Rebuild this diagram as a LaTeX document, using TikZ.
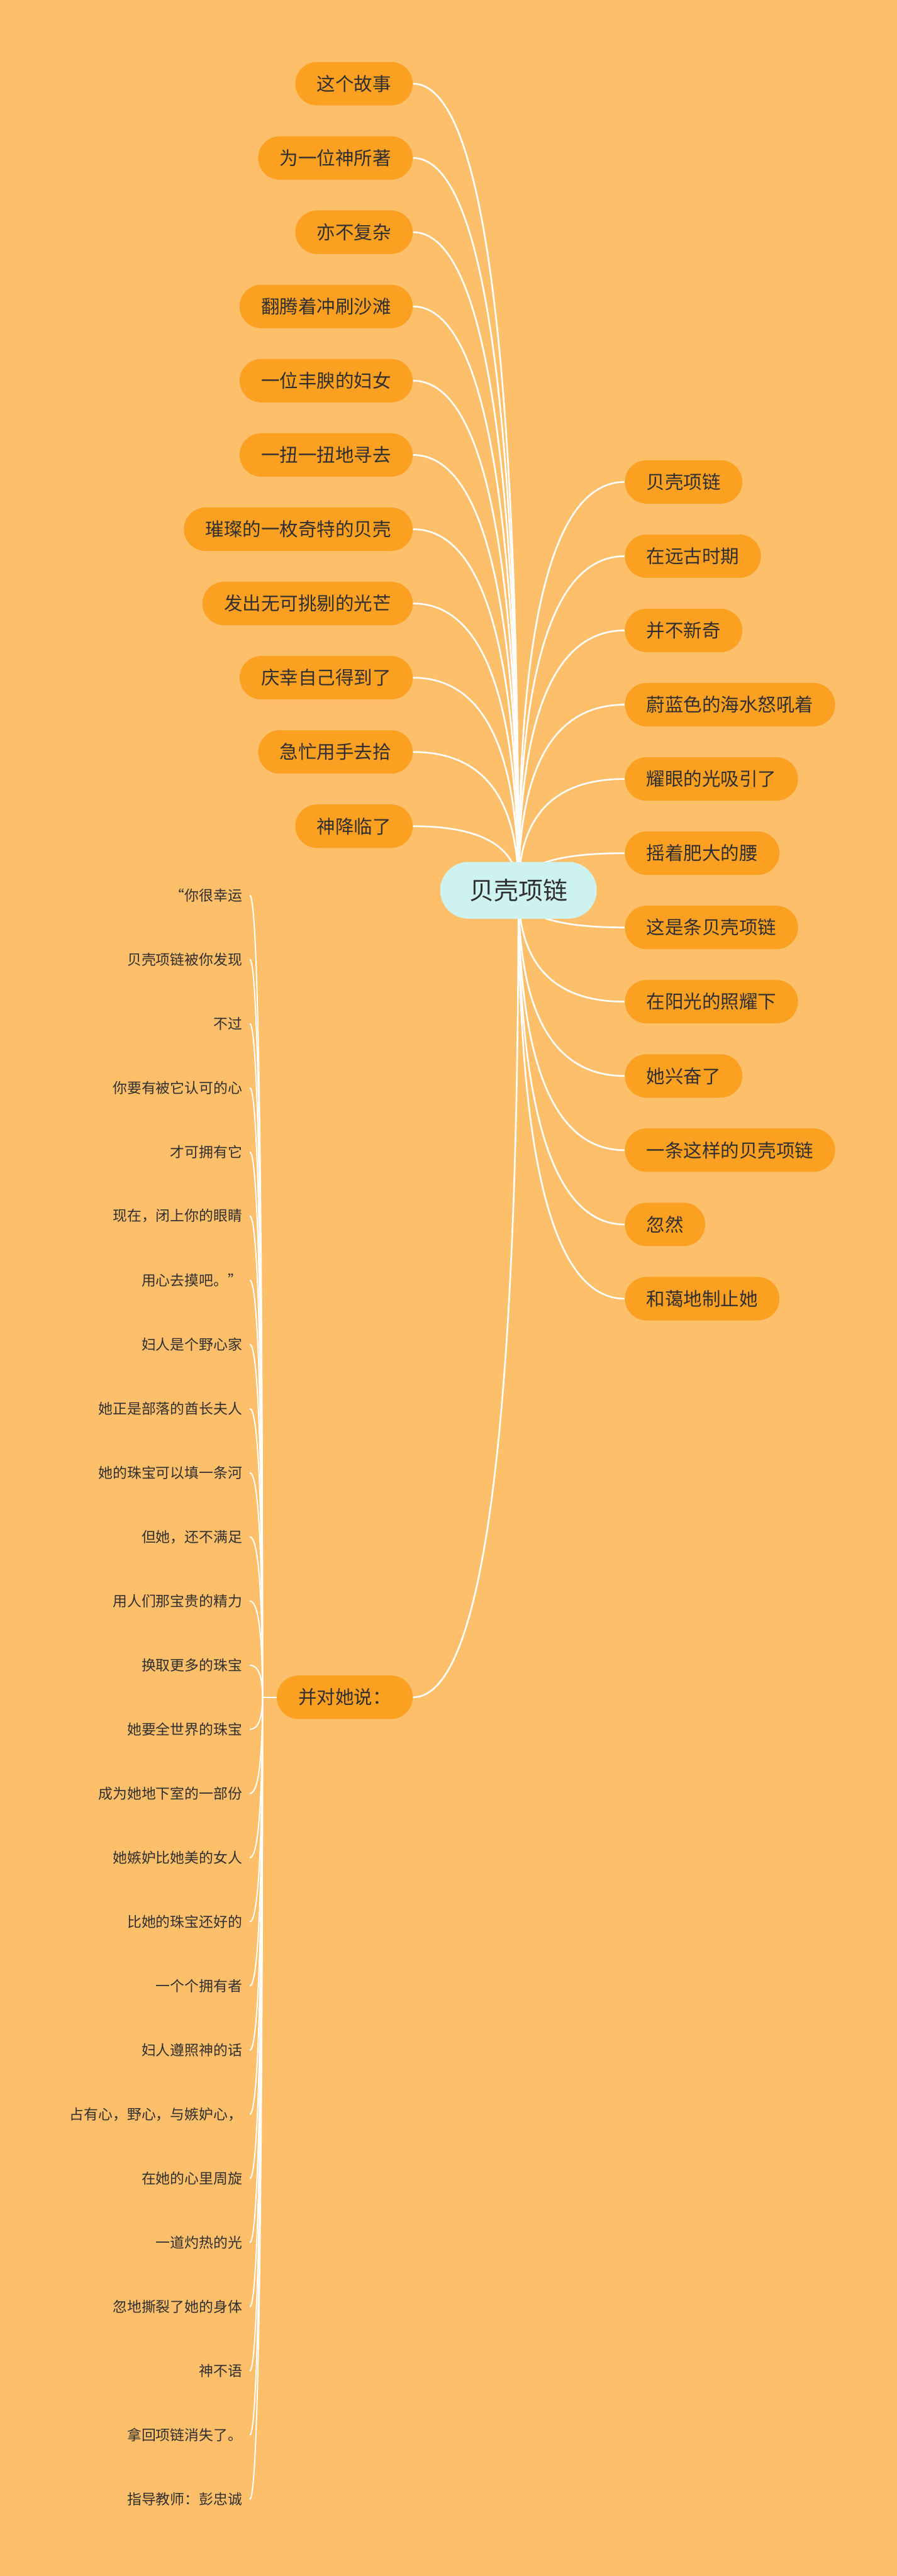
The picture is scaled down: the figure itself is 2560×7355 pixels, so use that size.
\documentclass[tikz,border=0pt]{standalone}
\usepackage{fontspec}
\setmainfont{Noto Sans CJK SC}
\usepackage{tikz}
\usetikzlibrary{calc}

\definecolor{paper}{HTML}{FEBF6A}
\definecolor{leaffill}{HTML}{FBA020}
\definecolor{rootfill}{HTML}{CDF2EF}
\definecolor{ink}{HTML}{2F2F2F}

\pgfdeclarelayer{bg}
\pgfdeclarelayer{links}
\pgfsetlayers{bg,links,main}

\begin{document}
\begin{tikzpicture}[x=0.25pt,y=-0.25pt,
	root/.style={fill=rootfill, rounded corners=20.25pt, minimum height=40.5pt, inner xsep=20.9pt, inner ysep=0pt, text=ink, font=\fontsize{17.5}{20}\selectfont},
	leaf/.style={fill=leaffill, rounded corners=15.5pt, minimum height=31pt, inner xsep=15.4pt, inner ysep=0pt, text=ink, font=\fontsize{13.25}{16}\selectfont},
	verse/.style={anchor=east, inner xsep=5.25pt, inner ysep=0pt, text=ink, font=\fontsize{10.25}{12}\selectfont},
	link/.style={draw=white, line width=1.2pt, to path={.. controls ($(\tikztostart)!2/3!(\tikztostart|-\tikztotarget)$) and ($(\tikztotarget)!2/3!(\tikztostart|-\tikztotarget)$) .. (\tikztotarget)}},
	twig/.style={link, line width=0.9pt}]
		\useasboundingbox (0,0) rectangle (2560,7355);
		\begin{pgfonlayer}{bg}
			\fill[paper] (0,0) rectangle (2560,7355);
		\end{pgfonlayer}

		\node[root]	(main)	at (1480,2542)	{贝壳项链};
		\coordinate (hub) at (main.center);

		% left side
		\node[leaf, anchor=east] (l1)	at (1179,239)			{这个故事};
		\node[leaf, anchor=east] (l2)	at ([yshift=-53pt]l1.east)	{为一位神所著};
		\node[leaf, anchor=east] (l3)	at ([yshift=-53pt]l2.east)	{亦不复杂};
		\node[leaf, anchor=east] (l4)	at ([yshift=-53pt]l3.east)	{翻腾着冲刷沙滩};
		\node[leaf, anchor=east] (l5)	at ([yshift=-53pt]l4.east)	{一位丰腴的妇女};
		\node[leaf, anchor=east] (l6)	at ([yshift=-53pt]l5.east)	{一扭一扭地寻去};
		\node[leaf, anchor=east] (l7)	at ([yshift=-53pt]l6.east)	{璀璨的一枚奇特的贝壳};
		\node[leaf, anchor=east] (l8)	at ([yshift=-53pt]l7.east)	{发出无可挑剔的光芒};
		\node[leaf, anchor=east] (l9)	at ([yshift=-53pt]l8.east)	{庆幸自己得到了};
		\node[leaf, anchor=east] (l10)	at ([yshift=-53pt]l9.east)	{急忙用手去拾};
		\node[leaf, anchor=east] (l11)	at ([yshift=-53pt]l10.east)	{神降临了};
		\node[leaf, anchor=east] (say)	at (1179,4846)			{并对她说：};

		% right side
		\node[leaf, anchor=west] (r1)	at (1783,1376)			{贝壳项链};
		\node[leaf, anchor=west] (r2)	at ([yshift=-53pt]r1.west)	{在远古时期};
		\node[leaf, anchor=west] (r3)	at ([yshift=-53pt]r2.west)	{并不新奇};
		\node[leaf, anchor=west] (r4)	at ([yshift=-53pt]r3.west)	{蔚蓝色的海水怒吼着};
		\node[leaf, anchor=west] (r5)	at ([yshift=-53pt]r4.west)	{耀眼的光吸引了};
		\node[leaf, anchor=west] (r6)	at ([yshift=-53pt]r5.west)	{摇着肥大的腰};
		\node[leaf, anchor=west] (r7)	at ([yshift=-53pt]r6.west)	{这是条贝壳项链};
		\node[leaf, anchor=west] (r8)	at ([yshift=-53pt]r7.west)	{在阳光的照耀下};
		\node[leaf, anchor=west] (r9)	at ([yshift=-53pt]r8.west)	{她兴奋了};
		\node[leaf, anchor=west] (r10)	at ([yshift=-53pt]r9.west)	{一条这样的贝壳项链};
		\node[leaf, anchor=west] (r11)	at ([yshift=-53pt]r10.west)	{忽然};
		\node[leaf, anchor=west] (r12)	at ([yshift=-53pt]r11.west)	{和蔼地制止她};

		% what she was told
		\node[verse] (s1)	at (713,2556)			{“你很幸运};
		\node[verse] (s2)	at ([yshift=-45.8pt]s1.east)	{贝壳项链被你发现};
		\node[verse] (s3)	at ([yshift=-45.8pt]s2.east)	{不过};
		\node[verse] (s4)	at ([yshift=-45.8pt]s3.east)	{你要有被它认可的心};
		\node[verse] (s5)	at ([yshift=-45.8pt]s4.east)	{才可拥有它};
		\node[verse] (s6)	at ([yshift=-45.8pt]s5.east)	{现在，闭上你的眼睛};
		\node[verse] (s7)	at ([yshift=-45.8pt]s6.east)	{用心去摸吧。”};
		\node[verse] (s8)	at ([yshift=-45.8pt]s7.east)	{妇人是个野心家};
		\node[verse] (s9)	at ([yshift=-45.8pt]s8.east)	{她正是部落的酋长夫人};
		\node[verse] (s10)	at ([yshift=-45.8pt]s9.east)	{她的珠宝可以填一条河};
		\node[verse] (s11)	at ([yshift=-45.8pt]s10.east)	{但她，还不满足};
		\node[verse] (s12)	at ([yshift=-45.8pt]s11.east)	{用人们那宝贵的精力};
		\node[verse] (s13)	at ([yshift=-45.8pt]s12.east)	{换取更多的珠宝};
		\node[verse] (s14)	at ([yshift=-45.8pt]s13.east)	{她要全世界的珠宝};
		\node[verse] (s15)	at ([yshift=-45.8pt]s14.east)	{成为她地下室的一部份};
		\node[verse] (s16)	at ([yshift=-45.8pt]s15.east)	{她嫉妒比她美的女人};
		\node[verse] (s17)	at ([yshift=-45.8pt]s16.east)	{比她的珠宝还好的};
		\node[verse] (s18)	at ([yshift=-45.8pt]s17.east)	{一个个拥有者};
		\node[verse] (s19)	at ([yshift=-45.8pt]s18.east)	{妇人遵照神的话};
		\node[verse] (s20)	at ([yshift=-45.8pt]s19.east)	{占有心，野心，与嫉妒心，};
		\node[verse] (s21)	at ([yshift=-45.8pt]s20.east)	{在她的心里周旋};
		\node[verse] (s22)	at ([yshift=-45.8pt]s21.east)	{一道灼热的光};
		\node[verse] (s23)	at ([yshift=-45.8pt]s22.east)	{忽地撕裂了她的身体};
		\node[verse] (s24)	at ([yshift=-45.8pt]s23.east)	{神不语};
		\node[verse] (s25)	at ([yshift=-45.8pt]s24.east)	{拿回项链消失了。};
		\node[verse] (s26)	at ([yshift=-45.8pt]s25.east)	{指导教师：彭忠诚};
		\coordinate (sj) at ([xshift=-10pt]say.west);

		\begin{pgfonlayer}{links}
		\path[link]
		(hub)	edge (l1.east)	edge (l2.east)	edge (l3.east)	edge (l4.east)
			edge (l5.east)	edge (l6.east)	edge (l7.east)	edge (l8.east)
			edge (l9.east)	edge (l10.east)	edge (l11.east)	edge (say.east)
			edge (r1.west)	edge (r2.west)	edge (r3.west)	edge (r4.west)
			edge (r5.west)	edge (r6.west)	edge (r7.west)	edge (r8.west)
			edge (r9.west)	edge (r10.west)	edge (r11.west)	edge (r12.west)
		;
		\draw[white, line width=0.9pt] (say.west) -- (sj);
		\path[twig]
		(sj)	edge (s1.east)	edge (s2.east)	edge (s3.east)	edge (s4.east)
			edge (s5.east)	edge (s6.east)	edge (s7.east)	edge (s8.east)
			edge (s9.east)	edge (s10.east)	edge (s11.east)	edge (s12.east)
			edge (s13.east)	edge (s14.east)	edge (s15.east)	edge (s16.east)
			edge (s17.east)	edge (s18.east)	edge (s19.east)	edge (s20.east)
			edge (s21.east)	edge (s22.east)	edge (s23.east)	edge (s24.east)
			edge (s25.east)	edge (s26.east)
		;
		\end{pgfonlayer}
	\end{tikzpicture}
\end{document}
